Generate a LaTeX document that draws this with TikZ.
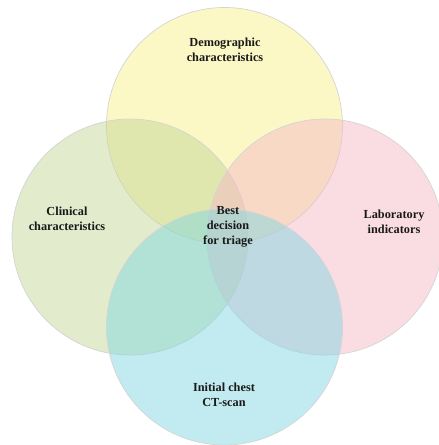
\documentclass[tikz,border=0pt]{standalone}
\usepackage{fontspec}
\setmainfont{Liberation Serif}
\usepackage{tikz}
\usetikzlibrary{shapes.geometric, positioning}
\definecolor{demoyellow}{RGB}{249,241,139}
\definecolor{clingreen}{RGB}{197,215,151}
\definecolor{labpink}{RGB}{245,187,199}
\definecolor{ctcyan}{RGB}{131,215,225}
\definecolor{ringgray}{RGB}{212,212,212}
\tikzstyle{set} = [circle, minimum size = 236pt, inner sep = 0pt, draw = ringgray, line width = 0.7pt, fill opacity = 0.5]
\tikzstyle{caption} = [align = center, font = \fontsize{12.3}{15}\selectfont\bfseries, text = black!90]

\begin{document}
\begin{tikzpicture} [x = 1pt, y = 1pt]
\useasboundingbox (0,0) rectangle (439,445);
\node (demo) [set, fill = demoyellow] at (224.5,319.5) {};
\node (clin) [set, fill = clingreen] at (130,208) {};
\node (lab) [set, fill = labpink] at (325,208) {};
\node (ct) [set, fill = ctcyan] at (224.5,118) {};

\node (demotext) [caption] at (225,395) {Demographic\\characteristics};
\node (clintext) [caption] at (67,226) {Clinical\\characteristics};
\node (labtext) [caption] at (394,223) {Laboratory\\indicators};
\node (besttext) [caption] at (228,218) {Best\\decision\\for triage};
\node (cttext) [caption] at (224,50) {Initial chest\\CT-scan};
\end{tikzpicture}
\end{document}
